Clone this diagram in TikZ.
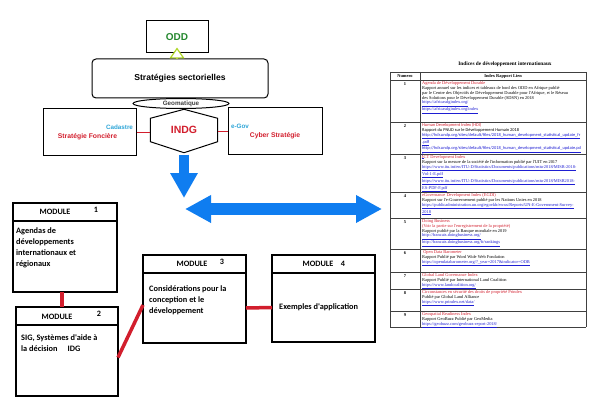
\documentclass[tikz,border=0pt]{standalone}
\usetikzlibrary{positioning, arrows.meta, shapes.geometric}
\usepackage{fontspec}
\newfontfamily\arialf{Liberation Sans}
\newfontfamily\calibf{Carlito}
\newfontfamily\timesf{Liberation Serif}
\definecolor{oddgreen}{RGB}{35,135,45}
\definecolor{triyellow}{RGB}{175,215,40}
\definecolor{indgred}{RGB}{210,30,45}
\definecolor{cadblue}{RGB}{45,165,215}
\definecolor{arrowblue}{RGB}{15,125,240}
\definecolor{linkblue}{RGB}{30,30,210}
\newcommand{\lnk}[1]{\textcolor{linkblue}{\underline{#1}}}

\begin{document}
\begin{tikzpicture}[x=1pt, y=-1pt,
    topbox/.style={draw, line width=1pt, inner sep=0pt},
    redtxt/.style={text=indgred, font=\arialf\bfseries\fontsize{6.8}{8}\selectfont, inner sep=0pt},
    bluetxt/.style={text=cadblue, font=\arialf\bfseries\fontsize{6.3}{8}\selectfont, inner sep=0pt},
    redlink/.style={draw=indgred, line width=1.5pt},
    modlink/.style={draw=indgred, line width=3.5pt},
    modhead/.style={draw, line width=1.6pt, outer sep=0pt, inner sep=0pt, minimum height=18},
    modbody/.style={draw, line width=1.6pt, outer sep=0pt, inner sep=0pt},
    modlbl/.style={font=\calibf\bfseries\fontsize{8.2}{10}\selectfont, inner sep=0pt},
    modtxt/.style={font=\calibf\bfseries\fontsize{8.3}{11.3}\selectfont, align=left, inner sep=0pt, anchor=north west},
    bluearrow/.style={arrowblue, line width=10pt},
    tabline/.style={draw=black!75, line width=0.5pt},
    tabtxt/.style={font=\timesf\fontsize{4.4}{4.75}\selectfont, align=left, inner sep=0pt, anchor=north west},
    tabnum/.style={font=\timesf\bfseries\fontsize{4.4}{5}\selectfont, inner sep=0pt}]
    \useasboundingbox (0,0) rectangle (596,414);

    \node[topbox, minimum width=62, minimum height=32, text=oddgreen, font=\arialf\bfseries\fontsize{10}{12}\selectfont] (odd) at (177,37) {ODD};
    \node[topbox, rounded corners=4pt, minimum width=176, minimum height=39, font=\arialf\bfseries\fontsize{8.6}{10}\selectfont] (strat) at (180,78.5) {Stratégies sectorielles};
    \draw[triyellow, line width=1.2pt, -{Triangle[open, length=11pt, width=15pt, fill=white]}] (odd.south |- strat.north) -- ([yshift=6pt]odd.south);
    \node[topbox, ellipse, fill=white, minimum width=96, minimum height=10, text=black!75, font=\arialf\bfseries\fontsize{6.3}{7}\selectfont] (geo) at (181,103.5) {Geomatique};

    \node[minimum width=67, minimum height=23, inner sep=0pt, text=indgred, font=\arialf\bfseries\fontsize{10.5}{12}\selectfont] (indg) at (184,130) {INDG};
    \draw[line width=1pt] (indg.north west) -- ([yshift=9pt]indg.north) -- (indg.north east) -- (indg.south east) -- ([yshift=-11pt]indg.south) -- (indg.south west) -- cycle;
    \coordinate (indgbot) at ([yshift=-13pt]indg.south);

    \node[topbox, minimum width=93, minimum height=47] (fonc) at (89.5,132.5) {};
    \node[redtxt] (foncT) at (87.5,137) {Stratégie Foncière};
    \node[bluetxt] (cad) at (119.5,127) {Cadastre};
    \node[topbox, minimum width=94, minimum height=47] (cyber) at (275,131.5) {};
    \node[bluetxt] (egov) at (240,126) {e-Gov};
    \node[redtxt] (cyberT) at (275,136) {Cyber Stratégie};
    \draw[redlink] (fonc.east) -- (fonc.east -| indg.west);
    \draw[redlink] (cyber.west -| indg.east) -- (cyber.west);

    \coordinate (downtip) at (184,198);
    \draw[bluearrow, -{Triangle[length=25pt, width=26pt]}] (indgbot) -- (downtip);
    \coordinate (arrL) at (185,209);
    \coordinate (arrR) at (382,209);
    \draw[bluearrow, line width=12pt, {Triangle[length=26pt, width=26pt]}-{Triangle[length=26pt, width=26pt]}] (arrL) -- (arrR);

    \node[modhead, minimum width=104] (m1h) at (65,212) {};
    \node[modbody, minimum width=104, minimum height=71, below=0pt of m1h] (m1b) {};
    \node[modlbl] (m1l) at (55,212) {MODULE};
    \node[modlbl] (m1n) at (96,210) {1};
    \node[modtxt] (m1t) at ([xshift=3pt, yshift=-6pt]m1b.north west) {Agendas de\\développements\\internationaux et\\régionaux};

    \node[modhead, minimum width=102] (m2h) at (67,316) {};
    \node[modbody, minimum width=102, minimum height=71, below=0pt of m2h] (m2b) {};
    \node[modlbl] (m2l) at (57,317) {MODULE};
    \node[modlbl] (m2n) at (99,314) {2};
    \node[modtxt] (m2t) at ([xshift=5pt, yshift=-9pt]m2b.north west) {SIG, Systèmes d'aide à\\la décision\hspace{10pt}IDG};

    \node[modhead, minimum width=103] (m3h) at (194.5,264) {};
    \node[modbody, minimum width=103, minimum height=70, below=0pt of m3h] (m3b) {};
    \node[modlbl] (m3l) at (192,264) {MODULE};
    \node[modlbl] (m3n) at (222,262) {3};
    \node[modtxt] (m3t) at ([xshift=6pt, yshift=-12pt]m3b.north west) {Considérations pour la\\conception et le\\développement};

    \node[modhead, minimum width=103] (m4h) at (323.5,264) {};
    \node[modbody, minimum width=103, minimum height=69, below=0pt of m4h] (m4b) {};
    \node[modlbl] (m4l) at (318,264) {MODULE};
    \node[modlbl] (m4n) at (343,264) {4};
    \node[modtxt, anchor=west] (m4t) at ([xshift=7pt]m4b.west) {Exemples d'application};

    \draw[modlink] ([xshift=-3pt]m1b.south) -- ([xshift=-3pt]m1b.south |- m2h.north);
    \draw[modlink] ([yshift=3pt]m2b.east) -- ([yshift=3pt]m3b.west);
    \draw[modlink] (m3b.east) -- (m4b.west);

    \node[font=\timesf\bfseries\fontsize{5.3}{6}\selectfont, inner sep=0pt] (tabtitle) at (505,64) {Indices de développement internationaux};
    \foreach \yy in {72,80,122,154,192,218,249,272,289,311,327}
        \draw[tabline] (390,\yy) -- (586,\yy);
    \foreach \xx in {390,420,586}
        \draw[tabline] (\xx,72) -- (\xx,327);
    \node[tabnum] (hnum) at (405,76) {Numero};
    \node[tabnum] (hidx) at (503,76) {Index Rapport Lien};
    \foreach \n/\yy in {1/80,2/122,3/154,4/192,5/218,6/249,7/272,8/289,9/311}
        \node[tabnum] (num\n) at (405,\yy+4) {\n};

    \node[tabtxt] (cell1) at (422,81.5) {\textcolor{indgred}{Agenda de Développement Durable}\\Rapport annuel sur les indices et tableaux de bord des ODD en Afrique publié\\par le Centre des Objectifs de Développement Durable pour l'Afrique, et le Réseau\\des Solutions pour le Développement Durable (SDSN) en 2018\\\lnk{https://africasdgindex.org/}\\\lnk{https://africasdgindex.org/index}};
    \node[tabtxt, font=\calibf\fontsize{4.4}{4.75}\selectfont] (cell2) at (422,123.5) {\textcolor{indgred}{Human Development Index (HDI)}\\Rapport du PNUD sur le Développement Humain 2018\\\lnk{http://hdr.undp.org/sites/default/files/2018\_human\_development\_statistical\_update\_fr}\\\lnk{.pdf}\\\lnk{http://hdr.undp.org/sites/default/files/2018\_human\_development\_statistical\_update.pd}\\\lnk{f}};
    \node[tabtxt] (cell3) at (422,155.5) {\textcolor{indgred}{ICT Development Index}\\Rapport sur la mesure de la société de l'information publié par l'UIT en 2017\\\lnk{https://www.itu.int/en/ITU-D/Statistics/Documents/publications/misr2018/MISR-2018-}\\\lnk{Vol-1-E.pdf}\\\lnk{https://www.itu.int/en/ITU-D/Statistics/Documents/publications/misr2018/MISR2018-}\\\lnk{ES-PDF-F.pdf}};
    \node[tabtxt] (cell4) at (422,193.5) {\textcolor{indgred}{eGovernance Development Index (EGDI)}\\Rapport sur l'e-Gouvernement publié par les Nations Unies en 2018\\\lnk{https://publicadministration.un.org/egovkb/en-us/Reports/UN-E-Government-Survey-}\\\lnk{2018}};
    \node[tabtxt] (cell5) at (422,219.5) {\textcolor{indgred}{Doing Business}\\\textcolor{indgred}{(Voir la partie sur l'enregistrement de la propriété)}\\Rapport publié par la Banque mondiale en 2019\\\lnk{http://francais.doingbusiness.org/}\\\lnk{http://francais.doingbusiness.org/fr/rankings}};
    \node[tabtxt] (cell6) at (422,250.5) {\textcolor{indgred}{\ Open Data Barometer}\\Rapport Publié par Word Wide Web Fondation\\\lnk{https://opendatabarometer.org/?\_year=2017\&indicator=ODB}};
    \node[tabtxt] (cell7) at (422,273.5) {\textcolor{indgred}{Global Land Governance Index}\\Rapport Publié par International Land Coalition\\\lnk{https://www.landcoalition.org/}};
    \node[tabtxt] (cell8) at (422,290.5) {\textcolor{indgred}{Circonstances en sécurité des droits de propriété Prindex}\\Publié par Global Land Alliance\\\lnk{https://www.prindex.net/data/}};
    \node[tabtxt] (cell9) at (422,312.5) {\textcolor{indgred}{Geospatial Readiness Index}\\Rapport GeoBuzz Publié par GeoMedia\\\lnk{https://geobuzz.com/geobuzz-report-2018/}};
\end{tikzpicture}
\end{document}
